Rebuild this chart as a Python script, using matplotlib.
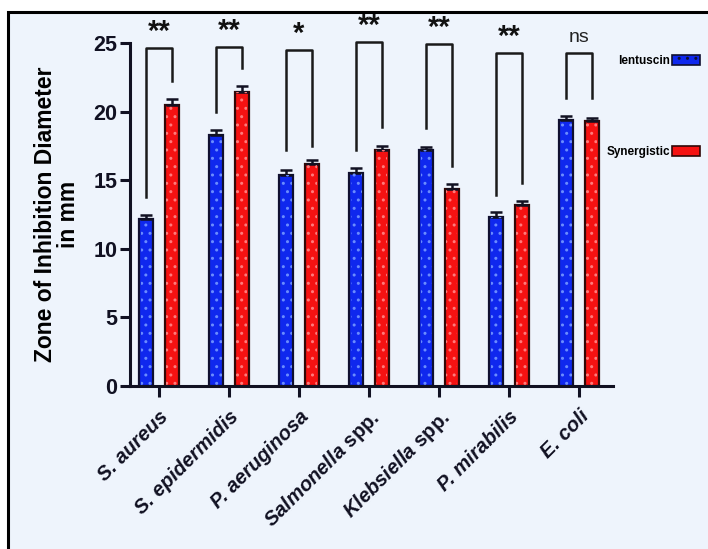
import matplotlib
matplotlib.use("Agg")
import matplotlib.pyplot as plt
from matplotlib.patches import Rectangle, Patch
import numpy as np

plt.rcParams['font.family'] = ['Liberation Sans', 'DejaVu Sans']
plt.rcParams['mathtext.fontset'] = 'custom'
plt.rcParams['mathtext.bfit'] = 'Liberation Sans:italic:bold'
plt.rcParams['mathtext.it'] = 'Liberation Sans:italic:bold'
plt.rcParams['mathtext.rm'] = 'Liberation Sans:bold'
plt.rcParams['hatch.linewidth'] = 1.0

categories = ["S. aureus", "S. epidermidis", "P. aeruginosa", "Salmonella spp.",
              "Klebsiella spp.", "P. mirabilis", "E. coli"]
lentuscin = [12.2, 18.3, 15.4, 15.5, 17.2, 12.3, 19.4]
lentuscin_err = [0.25, 0.35, 0.35, 0.4, 0.25, 0.35, 0.3]
synergistic = [20.5, 21.4, 16.2, 17.2, 14.35, 13.2, 19.3]
synergistic_err = [0.45, 0.45, 0.3, 0.3, 0.35, 0.25, 0.25]
significance = ["**", "**", "*", "**", "**", "**", "ns"]
bracket_top = [24.6, 24.7, 24.5, 25.1, 24.9, 24.3, 24.3]
bracket_left = [13.8, 20.0, 17.2, 17.2, 18.8, 13.9, 21.0]
bracket_right = [22.2, 23.2, 17.5, 18.9, 16.0, 14.8, 21.0]
yticks = [0, 5, 10, 15, 20, 25]

W, H = 708, 549
fig = plt.figure(figsize=(W / 100, H / 100), dpi=100)
fig.patch.set_facecolor('white')

# outer frame with light background
frame = Rectangle((8 / W, -0.05), 1.1, 1 - 12 / H + 0.05, transform=fig.transFigure,
                  facecolor='#eef4fc', edgecolor='black', linewidth=2.2, zorder=-10)
fig.patches.append(frame)

ax = fig.add_axes([130 / W, 1 - 386 / H, (613 - 130) / W, (386 - 43) / H])
ax.set_facecolor('none')
ax.set_zorder(1)

x = np.arange(len(categories))
off = 0.18
bw = 0.2
blue = '#0f28ee'
red = '#f51212'
edge = '#101030'

err_kw = dict(ecolor='#111122', elinewidth=1.8, capsize=4, capthick=1.8)
ax.bar(x - off, lentuscin, bw, color=blue, edgecolor=edge, linewidth=1.6,
       yerr=[np.zeros(len(x)), lentuscin_err], error_kw=err_kw, zorder=2)
ax.bar(x + off, synergistic, bw, color=red, edgecolor='#300808', linewidth=1.6,
       yerr=[np.zeros(len(x)), synergistic_err], error_kw=err_kw, zorder=2)
# dotted pattern
ax.bar(x - off, lentuscin, bw * 0.8, color='none', edgecolor='#6a8cff',
       hatch='..', linewidth=0, zorder=3)
ax.bar(x + off, synergistic, bw * 0.8, color='none', edgecolor='#ff7a7a',
       hatch='..', linewidth=0, zorder=3)

# significance brackets
for i in range(len(x)):
    xl, xr = x[i] - off, x[i] + off
    ax.plot([xl, xl, xr, xr], [bracket_left[i], bracket_top[i], bracket_top[i], bracket_right[i]],
            color='#1a1a1a', linewidth=1.8, clip_on=False, zorder=4)
    if significance[i] == 'ns':
        ax.text(x[i], bracket_top[i] + 0.5, 'ns', ha='center', va='bottom',
                fontsize=14, color='#222', clip_on=False)
    else:
        ax.text(x[i], bracket_top[i] + 0.15, significance[i], ha='center', va='bottom',
                fontsize=21, fontweight='bold', color='#111', clip_on=False)

ax.set_xlim(-0.414, 6.486)
ax.set_ylim(0, 25)
ax.set_yticks(yticks)
ax.set_yticklabels([str(t) for t in yticks], fontsize=15.5, fontweight='bold')
ax.set_xticks(x)


def fmt(name):
    if name.endswith(' spp.'):
        return r"$\mathbfit{" + name[:-5] + r"}$ spp."
    return name


ax.set_xticklabels([fmt(c) for c in categories], rotation=45, ha='right',
                   rotation_mode='anchor', fontsize=14.5, fontweight='bold')
for lbl, c in zip(ax.get_xticklabels(), categories):
    if not c.endswith(' spp.'):
        lbl.set_fontstyle('italic')

for s in ['top', 'right']:
    ax.spines[s].set_visible(False)
for s in ['left', 'bottom']:
    ax.spines[s].set_linewidth(2.2)
    ax.spines[s].set_color('#111122')
ax.tick_params(axis='y', length=7, width=2.2, pad=2, colors='#111122')
ax.tick_params(axis='x', length=8, width=2.2, pad=7, colors='#111122')
ax.set_ylabel('Zone of Inhibition Diameter\nin mm', fontsize=16.5, fontweight='bold',
              labelpad=10, linespacing=1.0)

# legend entries
h1 = [Patch(facecolor=blue, edgecolor=edge, hatch='..', linewidth=1.2)]
h2 = [Patch(facecolor=red, edgecolor='#300808', linewidth=1.2)]
leg1 = fig.legend(h1, ['lentuscin'], loc='center right', bbox_to_anchor=(700 / W, 1 - 61 / H),
                  frameon=False, markerfirst=False, handlelength=2.4, handleheight=1.0,
                  handletextpad=0.15, borderpad=0, borderaxespad=0,
                  prop={'weight': 'bold', 'size': 8.5})
leg2 = fig.legend(h2, ['Synergistic'], loc='center right', bbox_to_anchor=(700 / W, 1 - 152 / H),
                  frameon=False, markerfirst=False, handlelength=2.4, handleheight=1.0,
                  handletextpad=0.15, borderpad=0, borderaxespad=0,
                  prop={'weight': 'bold', 'size': 8.5})

fig.savefig('out.png', dpi=100, facecolor='white')
